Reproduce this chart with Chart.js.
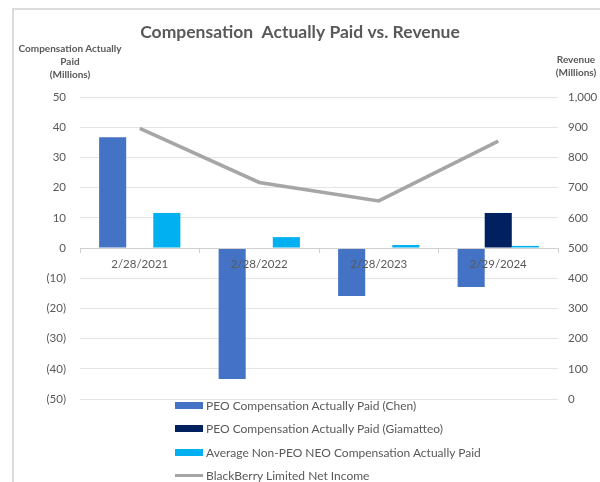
<!DOCTYPE html>
<html>
<head>
<meta charset="utf-8">
<script src="https://cdn.jsdelivr.net/npm/chart.js@4.4.1/dist/chart.umd.min.js"></script>
<style>
  html, body { margin: 0; padding: 0; background: #fff; }
  #wrap { position: relative; width: 600px; height: 482px; overflow: hidden; font-family: Lato, "Open Sans", sans-serif; }
  #frame { position: absolute; left: 12px; top: 8px; width: 600px; height: 500px; border-left: 2px solid #dcdcdc; border-top: 2px solid #dcdcdc; }
  #myChart { position: absolute; left: 0; top: 0; }
  .axisTitle { position: absolute; font-size: 10px; font-weight: bold; color: #595959; text-align: center; line-height: 13px; }
  #legend { position: absolute; left: 175px; top: 394px; margin: 0; padding: 0; list-style: none; }
  #legend li { height: 23.3px; display: flex; align-items: center; font-size: 12px; color: #595959; }
  #legend .box { display: inline-block; width: 28px; margin-right: 3px; }
</style>
</head>
<body>
<div id="wrap">
  <div id="frame"></div>
  <canvas id="myChart" width="600" height="482"></canvas>
  <div class="axisTitle" style="left:10px; top:42px; width:120px;">Compensation Actually<br>Paid<br>(Millions)</div>
  <div class="axisTitle" style="left:547px; top:53px; width:58px;">Revenue<br>(Millions)</div>
  <ul id="legend"></ul>
</div>
<script>
// fiscal year ends
var categories = ['2/28/2021', '2/28/2022', '2/28/2023', '2/29/2024'];
// compensation actually paid, $ millions
var chenPaid = [36.7, -43.4, -15.9, -12.9];
var giamatteoPaid = [null, null, null, 11.6];
var neoAvgPaid = [11.6, 3.6, 1.0, 0.7];
// revenue, $ millions
var revenue = [896, 717, 656, 854];

var gridColor = '#e4e4e4';
var textColor = '#595959';

function paren(v) {
    if (v < 0) return '(' + Math.abs(v) + ')';
    return v;
}

var chart = new Chart('myChart', {
    type: 'bar',
    data: {
        labels: categories,
        datasets: [{
            label: 'PEO Compensation Actually Paid (Chen)',
            data: chenPaid,
            backgroundColor: '#4472c4',
            yAxisID: 'y',
            order: 2
        }, {
            label: 'PEO Compensation Actually Paid (Giamatteo)',
            data: giamatteoPaid,
            backgroundColor: '#002060',
            yAxisID: 'y',
            order: 2
        }, {
            label: 'Average Non-PEO NEO Compensation Actually Paid',
            data: neoAvgPaid,
            backgroundColor: '#00b0f0',
            yAxisID: 'y',
            order: 2
        }, {
            type: 'line',
            label: 'BlackBerry Limited Net Income',
            data: revenue,
            borderColor: '#a6a6a6',
            backgroundColor: '#a6a6a6',
            borderWidth: 3.5,
            pointRadius: 0,
            tension: 0,
            yAxisID: 'y1',
            order: 1
        }]
    },
    options: {
        responsive: false,
        animation: false,
        layout: { padding: { top: 8, bottom: 83, left: 0, right: 0 } },
        datasets: {
            bar: { barPercentage: 1, categoryPercentage: 0.68 }
        },
        plugins: {
            legend: { display: false },
            tooltip: { enabled: false },
            title: {
                display: true,
                text: 'Compensation  Actually Paid vs. Revenue',
                color: textColor,
                font: { family: 'Lato', size: 17.5, weight: 'bold' },
                padding: { top: 14, bottom: 54 }
            }
        },
        scales: {
            x: {
                position: { y: 0 },
                offset: true,
                grid: { display: true, drawOnChartArea: false, offset: true, color: '#d0d0d0', tickLength: 4 },
                border: { color: '#d0d0d0', z: 1 },
                // labels sit on top of the bars, as in the original
                ticks: { z: 1, color: textColor, font: { family: 'Lato', size: 11.5 }, padding: 5 }
            },
            y: {
                position: 'left',
                min: -50,
                max: 50,
                ticks: { stepSize: 10, color: textColor, font: { family: 'Lato', size: 11.5 }, padding: 14, callback: paren },
                grid: { color: gridColor, drawTicks: false },
                border: { display: false },
                afterFit: function (s) { s.width = 80; }
            },
            y1: {
                position: 'right',
                min: 0,
                max: 1000,
                ticks: {
                    stepSize: 100, color: textColor, font: { family: 'Lato', size: 11.5 }, padding: 10,
                    callback: function (v) { return v.toLocaleString('en-US'); }
                },
                grid: { display: false, drawTicks: false },
                border: { display: false },
                afterFit: function (s) { s.width = 42; }
            }
        }
    }
});

// legend as a vertical list, built from the chart's own legend items (dataset order)
var items = chart.options.plugins.legend.labels.generateLabels(chart);
items.sort(function (a, b) { return a.datasetIndex - b.datasetIndex; });
var ul = document.getElementById('legend');
items.forEach(function (it) {
    var ds = chart.data.datasets[it.datasetIndex];
    var li = document.createElement('li');
    var box = document.createElement('span');
    box.className = 'box';
    box.style.background = ds.backgroundColor;
    box.style.height = ds.type === 'line' ? '3px' : '7px';
    li.appendChild(box);
    li.appendChild(document.createTextNode(it.text));
    ul.appendChild(li);
});
</script>
</body>
</html>
